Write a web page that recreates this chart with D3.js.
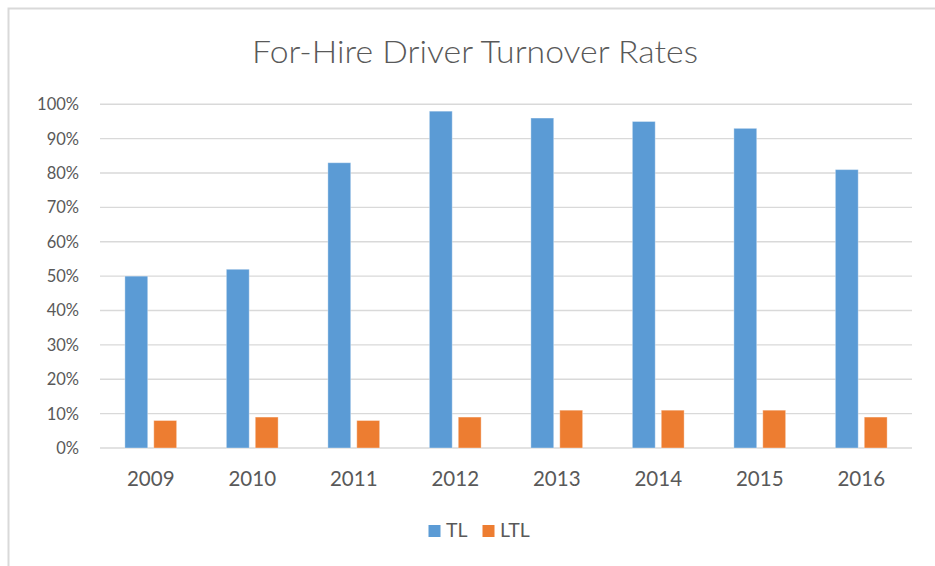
<!DOCTYPE html>
<html>
<head>
<meta charset="utf-8">
<script src="https://cdn.jsdelivr.net/npm/d3@7"></script>
<style>
  html, body { margin: 0; padding: 0; background: #fff; }
  svg { display: block; }
  text { font-family: Lato, "Open Sans", "DejaVu Sans", sans-serif; fill: #595959; }
</style>
</head>
<body>
<svg id="chart" width="935" height="566"></svg>
<script>
const title = "For-Hire Driver Turnover Rates";
const years = ["2009", "2010", "2011", "2012", "2013", "2014", "2015", "2016"];
const seriesNames = ["TL", "LTL"];
const tlValues = [50, 52, 83, 98, 96, 95, 93, 81];
const ltlValues = [8, 9, 8, 9, 11, 11, 11, 9];
const yTicks = [0, 10, 20, 30, 40, 50, 60, 70, 80, 90, 100];
const colors = ["#5B9BD5", "#ED7D31"];

const svg = d3.select("#chart");
const W = 935, H = 566;
const plot = { left: 100, right: 912, top: 104.3, bottom: 448 };

// frame
svg.append("rect")
  .attr("x", 8.5).attr("y", 8.5)
  .attr("width", W + 10).attr("height", H + 10)
  .attr("fill", "#fff").attr("stroke", "#d9d9d9").attr("stroke-width", 2);

// title
svg.append("text")
  .attr("x", 475).attr("y", 63)
  .attr("text-anchor", "middle")
  .attr("font-size", 31)
  .attr("font-weight", 300)
  .attr("textLength", 446)
  .attr("lengthAdjust", "spacingAndGlyphs")
  .text(title);

const x0 = d3.scaleBand().domain(years).range([plot.left, plot.right])
  .paddingInner(0.49).paddingOuter(0.245);
const x1 = d3.scaleBand().domain(seriesNames).range([0, x0.bandwidth()]).paddingInner(0.21);
const y = d3.scaleLinear().domain([0, 100]).range([plot.bottom, plot.top]);

// gridlines
svg.append("g").selectAll("line").data(yTicks).join("line")
  .attr("x1", plot.left).attr("x2", plot.right)
  .attr("y1", d => y(d)).attr("y2", d => y(d))
  .attr("stroke", "#d9d9d9").attr("stroke-width", 1.4);

// y labels
svg.append("g").selectAll("text").data(yTicks).join("text")
  .attr("x", 79).attr("y", d => y(d))
  .attr("dy", "0.36em")
  .attr("text-anchor", "end")
  .attr("font-size", 16.5)
  .text(d => d + "%");

// bars
const rows = years.map((yr, i) => ({ year: yr, vals: [tlValues[i], ltlValues[i]] }));
const groups = svg.append("g").selectAll("g").data(rows).join("g")
  .attr("transform", d => `translate(${x0(d.year)},0)`);
groups.selectAll("rect").data(d => d.vals.map((v, j) => ({ s: seriesNames[j], v, j })))
  .join("rect")
  .attr("x", d => x1(d.s))
  .attr("width", x1.bandwidth())
  .attr("y", d => y(d.v))
  .attr("height", d => y(0) - y(d.v))
  .attr("fill", d => colors[d.j])
  .attr("stroke", "rgba(255,255,255,0.35)")
  .attr("stroke-width", 1);

// x labels
svg.append("g").selectAll("text").data(years).join("text")
  .attr("x", d => x0(d) + x0.bandwidth() / 2)
  .attr("y", 486)
  .attr("text-anchor", "middle")
  .attr("font-size", 20.5)
  .text(d => d);

// legend
const legendItems = [
  { name: seriesNames[0], color: colors[0], sx: 428.5, tx: 446 },
  { name: seriesNames[1], color: colors[1], sx: 482.5, tx: 500 }
];
const lg = svg.append("g");
lg.selectAll("rect").data(legendItems).join("rect")
  .attr("x", d => d.sx).attr("y", 525)
  .attr("width", 12).attr("height", 12)
  .attr("fill", d => d.color);
lg.selectAll("text").data(legendItems).join("text")
  .attr("x", d => d.tx).attr("y", 537)
  .attr("font-size", 19.5)
  .text(d => d.name);
</script>
</body>
</html>
